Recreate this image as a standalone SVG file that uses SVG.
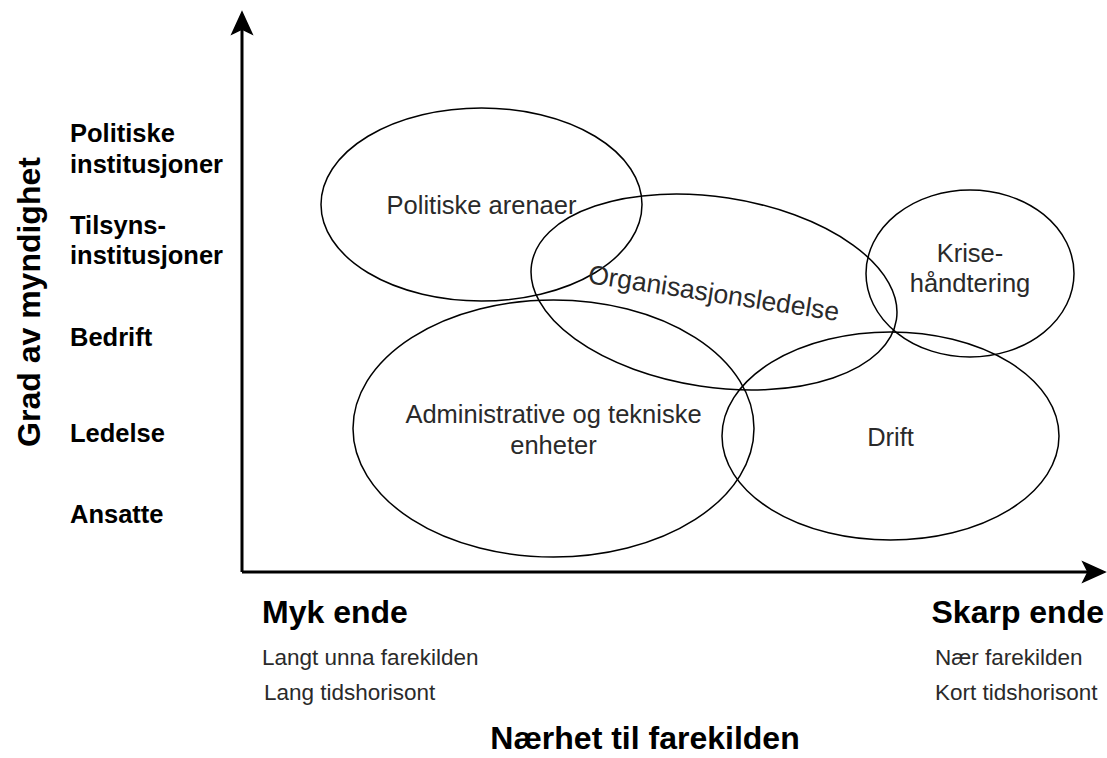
<svg xmlns="http://www.w3.org/2000/svg" width="1107" height="758" viewBox="0 0 1107 758">
  <style>
    .ell { fill: none; stroke: #000; stroke-width: 1.5; }
    .et { font-family: "Liberation Sans", Arial, sans-serif; font-size: 25.5px; fill: #2a2a2a; text-anchor: middle; }
    .lbl { font-family: "Liberation Sans", Arial, sans-serif; font-size: 25.5px; font-weight: bold; fill: #000; }
    .big { font-family: "Liberation Sans", Arial, sans-serif; font-size: 32px; font-weight: bold; fill: #000; }
    .sm { font-family: "Liberation Sans", Arial, sans-serif; font-size: 22.5px; fill: #2a2a2a; }
    .axis { stroke: #000; stroke-width: 3; fill: none; }
    .head { fill: #000; stroke: #000; stroke-width: 1.5; stroke-linejoin: miter; }
  </style>
  <rect width="1107" height="758" fill="#fff"/>

  <g id="connectors">
    <line class="axis" x1="242" y1="572" x2="242" y2="28"/>
    <polygon class="head" points="242,12 252,34 242,29 232,34"/>
    <line class="axis" x1="242" y1="572" x2="1090" y2="572"/>
    <polygon class="head" points="1105,572 1083,582 1088,572 1083,562"/>
  </g>

  <g id="politiske-arenaer">
    <ellipse class="ell" cx="481.5" cy="204.5" rx="160.5" ry="96.5"/>
    <text class="et" x="481.5" y="213.5">Politiske arenaer</text>
  </g>

  <g id="organisasjonsledelse" transform="translate(714 292) rotate(8.6)">
    <ellipse class="ell" cx="0" cy="0" rx="184.5" ry="95"/>
    <text class="et" x="0" y="10" style="font-size:26.5px">Organisasjonsledelse</text>
  </g>

  <g id="krisehandtering">
    <ellipse class="ell" cx="970" cy="273.5" rx="104" ry="83.5"/>
    <text class="et" x="970" y="262">Krise-</text>
    <text class="et" x="970" y="292">håndtering</text>
  </g>

  <g id="administrative">
    <ellipse class="ell" cx="553.5" cy="428.5" rx="200.5" ry="128.5"/>
    <text class="et" x="553.5" y="423">Administrative og tekniske</text>
    <text class="et" x="553.5" y="454">enheter</text>
  </g>

  <g id="drift">
    <ellipse class="ell" cx="890.5" cy="436" rx="168.5" ry="104"/>
    <text class="et" x="890.5" y="446">Drift</text>
  </g>

  <g id="y-labels">
    <text class="lbl" x="70" y="142">Politiske</text>
    <text class="lbl" x="70" y="173">institusjoner</text>
    <text class="lbl" x="70" y="234">Tilsyns-</text>
    <text class="lbl" x="70" y="264">institusjoner</text>
    <text class="lbl" x="70" y="346">Bedrift</text>
    <text class="lbl" x="70" y="442">Ledelse</text>
    <text class="lbl" x="70" y="523">Ansatte</text>
  </g>

  <g id="y-title">
    <text class="big" transform="translate(40 302) rotate(-90)" text-anchor="middle">Grad av myndighet</text>
  </g>

  <g id="myk-ende">
    <text class="big" x="262" y="623">Myk ende</text>
    <text class="sm" x="262" y="665">Langt unna farekilden</text>
    <text class="sm" x="264" y="700">Lang tidshorisont</text>
  </g>

  <g id="skarp-ende">
    <text class="big" x="1104" y="623" text-anchor="end">Skarp ende</text>
    <text class="sm" x="935" y="665">Nær farekilden</text>
    <text class="sm" x="935" y="700">Kort tidshorisont</text>
  </g>

  <g id="x-title">
    <text class="big" x="645" y="749" text-anchor="middle">Nærhet til farekilden</text>
  </g>
</svg>
